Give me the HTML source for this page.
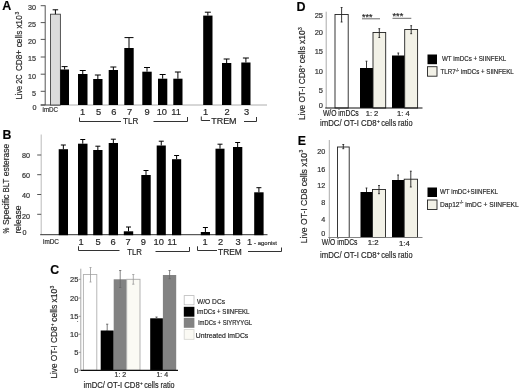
<!DOCTYPE html>
<html><head><meta charset="utf-8"><title>Figure</title>
<style>html,body{margin:0;padding:0;background:#fff}svg{display:block;font-family:"Liberation Sans", sans-serif}text{stroke:#333;stroke-width:.2px}</style>
</head><body>
<svg width="520" height="392" viewBox="0 0 520 392">
<rect width="520" height="392" fill="#fff"/>
<text x="2.20" y="10.30" font-size="12.5" text-anchor="start" fill="#000" font-weight="bold">A</text>
<g transform="translate(22.00 99.30) rotate(-90)" fill="#222">
<text x="0.00" y="0.00" font-size="9.5" textLength="24.80" lengthAdjust="spacingAndGlyphs">Live 2C</text>
<text x="28.20" y="0.00" font-size="9.5" textLength="21.30" lengthAdjust="spacingAndGlyphs">CD8+</text>
<text x="52.00" y="0.00" font-size="9.5" textLength="16.60" lengthAdjust="spacingAndGlyphs">cells</text>
<text x="70.80" y="0.00" font-size="9.5" textLength="13.20" lengthAdjust="spacingAndGlyphs">x10</text>
<text x="84.70" y="-3.14" font-size="4.94" textLength="2.80" lengthAdjust="spacingAndGlyphs">3</text>
</g>
<line x1="45.20" y1="5.40" x2="45.20" y2="105.00" stroke="#555" stroke-width="1"/>
<line x1="40.70" y1="5.70" x2="45.20" y2="5.70" stroke="#555" stroke-width="1"/>
<text x="36.00" y="10.09" font-size="7.2" text-anchor="end" fill="#333">30</text>
<line x1="40.70" y1="22.60" x2="45.20" y2="22.60" stroke="#555" stroke-width="1"/>
<text x="36.00" y="26.99" font-size="7.2" text-anchor="end" fill="#333">25</text>
<line x1="40.70" y1="39.40" x2="45.20" y2="39.40" stroke="#555" stroke-width="1"/>
<text x="36.00" y="43.79" font-size="7.2" text-anchor="end" fill="#333">20</text>
<line x1="40.70" y1="57.00" x2="45.20" y2="57.00" stroke="#555" stroke-width="1"/>
<text x="36.00" y="61.39" font-size="7.2" text-anchor="end" fill="#333">15</text>
<line x1="40.70" y1="74.20" x2="45.20" y2="74.20" stroke="#555" stroke-width="1"/>
<text x="36.00" y="78.59" font-size="7.2" text-anchor="end" fill="#333">10</text>
<line x1="40.70" y1="91.30" x2="45.20" y2="91.30" stroke="#555" stroke-width="1"/>
<text x="36.00" y="95.69" font-size="7.2" text-anchor="end" fill="#333">5</text>
<line x1="40.70" y1="105.00" x2="45.20" y2="105.00" stroke="#555" stroke-width="1"/>
<text x="36.60" y="110.19" font-size="7.2" text-anchor="end" fill="#333">0</text>
<line x1="40.70" y1="105.00" x2="60.00" y2="105.00" stroke="#444" stroke-width="1"/>
<line x1="60.00" y1="105.00" x2="267.00" y2="105.00" stroke="#999" stroke-width="0.8"/>
<rect x="50.50" y="14.20" width="9.90" height="90.80" fill="#dcdcdc" stroke="#444" stroke-width="0.9"/>
<line x1="55.40" y1="9.80" x2="55.40" y2="14.20" stroke="#000" stroke-width="1"/>
<line x1="52.65" y1="9.80" x2="58.15" y2="9.80" stroke="#000" stroke-width="1"/>
<rect x="60.20" y="69.50" width="8.80" height="35.50" fill="#000"/>
<line x1="64.60" y1="66.60" x2="64.60" y2="69.50" stroke="#000" stroke-width="1"/>
<line x1="61.60" y1="66.60" x2="67.60" y2="66.60" stroke="#000" stroke-width="1"/>
<rect x="78.00" y="74.00" width="9.50" height="31.00" fill="#000"/>
<line x1="82.75" y1="70.50" x2="82.75" y2="74.00" stroke="#000" stroke-width="1"/>
<line x1="79.75" y1="70.50" x2="85.75" y2="70.50" stroke="#000" stroke-width="1"/>
<rect x="93.20" y="79.00" width="9.30" height="26.00" fill="#000"/>
<line x1="97.85" y1="75.00" x2="97.85" y2="79.00" stroke="#000" stroke-width="1"/>
<line x1="94.85" y1="75.00" x2="100.85" y2="75.00" stroke="#000" stroke-width="1"/>
<rect x="108.70" y="70.00" width="9.30" height="35.00" fill="#000"/>
<line x1="113.35" y1="67.00" x2="113.35" y2="70.00" stroke="#000" stroke-width="1"/>
<line x1="110.35" y1="67.00" x2="116.35" y2="67.00" stroke="#000" stroke-width="1"/>
<rect x="124.30" y="48.00" width="9.40" height="57.00" fill="#000"/>
<line x1="129.00" y1="37.60" x2="129.00" y2="48.00" stroke="#000" stroke-width="1"/>
<line x1="124.50" y1="37.60" x2="133.50" y2="37.60" stroke="#000" stroke-width="1"/>
<rect x="142.30" y="71.70" width="9.40" height="33.30" fill="#000"/>
<line x1="147.00" y1="67.50" x2="147.00" y2="71.70" stroke="#000" stroke-width="1"/>
<line x1="144.00" y1="67.50" x2="150.00" y2="67.50" stroke="#000" stroke-width="1"/>
<rect x="158.00" y="78.70" width="9.30" height="26.30" fill="#000"/>
<line x1="162.65" y1="74.50" x2="162.65" y2="78.70" stroke="#000" stroke-width="1"/>
<line x1="159.65" y1="74.50" x2="165.65" y2="74.50" stroke="#000" stroke-width="1"/>
<rect x="173.30" y="78.70" width="9.20" height="26.30" fill="#000"/>
<line x1="177.90" y1="72.00" x2="177.90" y2="78.70" stroke="#000" stroke-width="1"/>
<line x1="174.90" y1="72.00" x2="180.90" y2="72.00" stroke="#000" stroke-width="1"/>
<rect x="203.20" y="15.60" width="9.30" height="89.40" fill="#000"/>
<line x1="207.85" y1="12.20" x2="207.85" y2="15.60" stroke="#000" stroke-width="1"/>
<line x1="204.85" y1="12.20" x2="210.85" y2="12.20" stroke="#000" stroke-width="1"/>
<rect x="222.00" y="63.00" width="9.30" height="42.00" fill="#000"/>
<line x1="226.65" y1="59.00" x2="226.65" y2="63.00" stroke="#000" stroke-width="1"/>
<line x1="223.65" y1="59.00" x2="229.65" y2="59.00" stroke="#000" stroke-width="1"/>
<rect x="241.30" y="62.50" width="9.20" height="42.50" fill="#000"/>
<line x1="245.90" y1="58.00" x2="245.90" y2="62.50" stroke="#000" stroke-width="1"/>
<line x1="242.90" y1="58.00" x2="248.90" y2="58.00" stroke="#000" stroke-width="1"/>
<text x="42.50" y="111.87" font-size="6.3" text-anchor="start" fill="#333" textLength="15.50" lengthAdjust="spacingAndGlyphs">imDC</text>
<text x="82.50" y="115.35" font-size="9.3" text-anchor="middle" fill="#222">1</text>
<text x="98.50" y="115.35" font-size="9.3" text-anchor="middle" fill="#222">5</text>
<text x="113.80" y="115.35" font-size="9.3" text-anchor="middle" fill="#222">6</text>
<text x="129.50" y="115.35" font-size="9.3" text-anchor="middle" fill="#222">7</text>
<text x="147.00" y="115.35" font-size="9.3" text-anchor="middle" fill="#222">9</text>
<text x="161.80" y="115.35" font-size="9.3" text-anchor="middle" fill="#222">10</text>
<text x="176.00" y="115.35" font-size="9.3" text-anchor="middle" fill="#222">11</text>
<text x="205.50" y="115.35" font-size="9.3" text-anchor="middle" fill="#222">1</text>
<text x="227.00" y="115.35" font-size="9.3" text-anchor="middle" fill="#222">2</text>
<text x="246.50" y="115.35" font-size="9.3" text-anchor="middle" fill="#222">3</text>
<polyline points="79.50,117.50 79.50,121.50 121.00,121.50" fill="none" stroke="#333" stroke-width="1"/>
<text x="123.00" y="123.68" font-size="9.4" text-anchor="start" fill="#222" textLength="15.30" lengthAdjust="spacingAndGlyphs">TLR</text>
<polyline points="153.50,121.50 187.50,121.50 187.50,117.00" fill="none" stroke="#333" stroke-width="1"/>
<polyline points="201.30,116.50 201.30,120.50 210.00,120.50" fill="none" stroke="#333" stroke-width="1"/>
<text x="211.20" y="123.88" font-size="9.4" text-anchor="start" fill="#222" textLength="25.40" lengthAdjust="spacingAndGlyphs">TREM</text>
<polyline points="244.00,121.50 256.50,121.50 256.50,117.00" fill="none" stroke="#333" stroke-width="1"/>
<text x="2.50" y="139.23" font-size="12.3" text-anchor="start" fill="#000" font-weight="bold">B</text>
<g transform="translate(9.20 233.50) rotate(-90)" fill="#222">
<text x="0.00" y="0.00" font-size="9.4" textLength="5.80" lengthAdjust="spacingAndGlyphs">%</text>
<text x="8.40" y="0.00" font-size="9.4" textLength="30.60" lengthAdjust="spacingAndGlyphs">Specific</text>
<text x="41.00" y="0.00" font-size="9.4" textLength="13.80" lengthAdjust="spacingAndGlyphs">BLT</text>
<text x="57.20" y="0.00" font-size="9.4" textLength="32.50" lengthAdjust="spacingAndGlyphs">esterase</text>
</g>
<text x="20.60" y="233.50" font-size="9.3" text-anchor="start" fill="#222" transform="rotate(-90 20.60 233.50)" textLength="28.00" lengthAdjust="spacingAndGlyphs">release</text>
<line x1="41.20" y1="134.50" x2="41.20" y2="234.70" stroke="#bbb" stroke-width="1"/>
<line x1="37.20" y1="155.00" x2="41.20" y2="155.00" stroke="#555" stroke-width="1"/>
<text x="30.00" y="158.19" font-size="7.2" text-anchor="end" fill="#333">80</text>
<line x1="37.20" y1="174.70" x2="41.20" y2="174.70" stroke="#555" stroke-width="1"/>
<text x="30.00" y="177.89" font-size="7.2" text-anchor="end" fill="#333">60</text>
<line x1="37.20" y1="194.50" x2="41.20" y2="194.50" stroke="#555" stroke-width="1"/>
<text x="30.00" y="197.69" font-size="7.2" text-anchor="end" fill="#333">40</text>
<line x1="37.20" y1="214.30" x2="41.20" y2="214.30" stroke="#555" stroke-width="1"/>
<text x="30.00" y="218.89" font-size="7.2" text-anchor="end" fill="#333">20</text>
<text x="26.40" y="234.89" font-size="7.2" text-anchor="end" fill="#333">0</text>
<line x1="40.20" y1="234.70" x2="267.50" y2="234.70" stroke="#333" stroke-width="1"/>
<rect x="58.70" y="149.20" width="9.30" height="86.00" fill="#000"/>
<line x1="63.35" y1="145.00" x2="63.35" y2="149.20" stroke="#000" stroke-width="1"/>
<line x1="60.85" y1="145.00" x2="65.85" y2="145.00" stroke="#000" stroke-width="1"/>
<rect x="78.00" y="143.70" width="9.50" height="91.50" fill="#000"/>
<line x1="82.75" y1="139.50" x2="82.75" y2="143.70" stroke="#000" stroke-width="1"/>
<line x1="80.25" y1="139.50" x2="85.25" y2="139.50" stroke="#000" stroke-width="1"/>
<rect x="93.20" y="150.00" width="9.30" height="85.20" fill="#000"/>
<line x1="97.85" y1="146.20" x2="97.85" y2="150.00" stroke="#000" stroke-width="1"/>
<line x1="95.35" y1="146.20" x2="100.35" y2="146.20" stroke="#000" stroke-width="1"/>
<rect x="108.70" y="143.00" width="9.30" height="92.20" fill="#000"/>
<line x1="113.35" y1="139.20" x2="113.35" y2="143.00" stroke="#000" stroke-width="1"/>
<line x1="110.85" y1="139.20" x2="115.85" y2="139.20" stroke="#000" stroke-width="1"/>
<rect x="123.80" y="231.30" width="9.40" height="3.90" fill="#000"/>
<line x1="128.50" y1="227.00" x2="128.50" y2="231.30" stroke="#000" stroke-width="1"/>
<line x1="126.00" y1="227.00" x2="131.00" y2="227.00" stroke="#000" stroke-width="1"/>
<rect x="141.30" y="175.00" width="9.40" height="60.20" fill="#000"/>
<line x1="146.00" y1="170.50" x2="146.00" y2="175.00" stroke="#000" stroke-width="1"/>
<line x1="143.50" y1="170.50" x2="148.50" y2="170.50" stroke="#000" stroke-width="1"/>
<rect x="156.70" y="145.50" width="9.10" height="89.70" fill="#000"/>
<line x1="161.25" y1="141.20" x2="161.25" y2="145.50" stroke="#000" stroke-width="1"/>
<line x1="158.75" y1="141.20" x2="163.75" y2="141.20" stroke="#000" stroke-width="1"/>
<rect x="172.00" y="159.20" width="9.20" height="76.00" fill="#000"/>
<line x1="176.60" y1="155.50" x2="176.60" y2="159.20" stroke="#000" stroke-width="1"/>
<line x1="174.10" y1="155.50" x2="179.10" y2="155.50" stroke="#000" stroke-width="1"/>
<rect x="200.80" y="232.00" width="9.20" height="3.20" fill="#000"/>
<line x1="205.40" y1="227.50" x2="205.40" y2="232.00" stroke="#000" stroke-width="1"/>
<line x1="202.90" y1="227.50" x2="207.90" y2="227.50" stroke="#000" stroke-width="1"/>
<rect x="215.50" y="148.70" width="9.00" height="86.50" fill="#000"/>
<line x1="220.00" y1="144.20" x2="220.00" y2="148.70" stroke="#000" stroke-width="1"/>
<line x1="217.50" y1="144.20" x2="222.50" y2="144.20" stroke="#000" stroke-width="1"/>
<rect x="233.00" y="147.00" width="9.30" height="88.20" fill="#000"/>
<line x1="237.65" y1="142.50" x2="237.65" y2="147.00" stroke="#000" stroke-width="1"/>
<line x1="235.15" y1="142.50" x2="240.15" y2="142.50" stroke="#000" stroke-width="1"/>
<rect x="254.20" y="192.30" width="9.40" height="42.90" fill="#000"/>
<line x1="258.90" y1="187.70" x2="258.90" y2="192.30" stroke="#000" stroke-width="1"/>
<line x1="256.40" y1="187.70" x2="261.40" y2="187.70" stroke="#000" stroke-width="1"/>
<text x="43.00" y="243.87" font-size="6.3" text-anchor="start" fill="#333" textLength="16.00" lengthAdjust="spacingAndGlyphs">imDC</text>
<text x="81.00" y="244.65" font-size="9.3" text-anchor="middle" fill="#222">1</text>
<text x="98.00" y="244.65" font-size="9.3" text-anchor="middle" fill="#222">5</text>
<text x="113.20" y="244.65" font-size="9.3" text-anchor="middle" fill="#222">6</text>
<text x="128.00" y="244.65" font-size="9.3" text-anchor="middle" fill="#222">7</text>
<text x="143.30" y="244.65" font-size="9.3" text-anchor="middle" fill="#222">9</text>
<text x="158.70" y="244.65" font-size="9.3" text-anchor="middle" fill="#222">10</text>
<text x="172.00" y="244.65" font-size="9.3" text-anchor="middle" fill="#222">11</text>
<text x="205.00" y="244.65" font-size="9.3" text-anchor="middle" fill="#222">1</text>
<text x="220.50" y="244.65" font-size="9.3" text-anchor="middle" fill="#222">2</text>
<text x="238.00" y="244.65" font-size="9.3" text-anchor="middle" fill="#222">3</text>
<text x="249.50" y="244.65" font-size="9.3" text-anchor="middle" fill="#222">1</text>
<text x="254.00" y="245.42" font-size="5.9" text-anchor="start" fill="#333" textLength="23.00" lengthAdjust="spacingAndGlyphs">- agonist</text>
<polyline points="78.50,246.30 78.50,250.50 119.50,250.50" fill="none" stroke="#333" stroke-width="1"/>
<text x="127.30" y="254.68" font-size="9.4" text-anchor="start" fill="#222" textLength="14.70" lengthAdjust="spacingAndGlyphs">TLR</text>
<polyline points="155.50,251.50 189.50,251.50 189.50,247.00" fill="none" stroke="#333" stroke-width="1"/>
<polyline points="197.50,246.30 197.50,250.50 217.00,250.50" fill="none" stroke="#333" stroke-width="1"/>
<text x="218.00" y="254.78" font-size="9.4" text-anchor="start" fill="#222" textLength="23.80" lengthAdjust="spacingAndGlyphs">TREM</text>
<polyline points="248.00,251.50 281.50,251.50 281.50,247.50" fill="none" stroke="#333" stroke-width="1"/>
<text x="50.30" y="274.43" font-size="12.3" text-anchor="start" fill="#000" font-weight="bold">C</text>
<g transform="translate(56.80 378.60) rotate(-90)" fill="#222">
<text x="0.00" y="0.00" font-size="9.5" textLength="52.20" lengthAdjust="spacingAndGlyphs">Live OT-I CD8</text>
<text x="52.60" y="-3.14" font-size="4.94" textLength="2.40" lengthAdjust="spacingAndGlyphs">+</text>
<text x="56.80" y="0.00" font-size="9.5" textLength="32.90" lengthAdjust="spacingAndGlyphs">cells x10</text>
<text x="90.00" y="-3.14" font-size="4.94" textLength="2.80" lengthAdjust="spacingAndGlyphs">3</text>
</g>
<line x1="80.80" y1="268.70" x2="80.80" y2="370.30" stroke="#aaa" stroke-width="1"/>
<line x1="78.80" y1="279.30" x2="80.80" y2="279.30" stroke="#999" stroke-width="1"/>
<text x="78.40" y="282.20" font-size="7.5" text-anchor="end" fill="#333">25</text>
<line x1="78.80" y1="298.00" x2="80.80" y2="298.00" stroke="#999" stroke-width="1"/>
<text x="78.40" y="300.90" font-size="7.5" text-anchor="end" fill="#333">20</text>
<line x1="78.80" y1="316.30" x2="80.80" y2="316.30" stroke="#999" stroke-width="1"/>
<text x="78.40" y="319.20" font-size="7.5" text-anchor="end" fill="#333">15</text>
<line x1="78.80" y1="334.20" x2="80.80" y2="334.20" stroke="#999" stroke-width="1"/>
<text x="78.40" y="337.10" font-size="7.5" text-anchor="end" fill="#333">10</text>
<line x1="78.80" y1="352.30" x2="80.80" y2="352.30" stroke="#999" stroke-width="1"/>
<text x="78.40" y="355.20" font-size="7.5" text-anchor="end" fill="#333">5</text>
<line x1="78.80" y1="370.30" x2="80.80" y2="370.30" stroke="#999" stroke-width="1"/>
<text x="78.40" y="373.20" font-size="7.5" text-anchor="end" fill="#333">0</text>
<rect x="83.40" y="274.50" width="13.40" height="95.80" fill="#fff" stroke="#b0b0b0" stroke-width="0.9"/>
<line x1="90.50" y1="267.50" x2="90.50" y2="282.00" stroke="#999" stroke-width="0.8"/>
<line x1="89.50" y1="267.50" x2="91.50" y2="267.50" stroke="#999" stroke-width="0.8"/>
<line x1="89.50" y1="282.00" x2="91.50" y2="282.00" stroke="#999" stroke-width="0.8"/>
<rect x="100.70" y="330.50" width="13.00" height="39.80" fill="#000"/>
<line x1="107.20" y1="324.20" x2="107.20" y2="330.50" stroke="#555" stroke-width="0.8"/>
<line x1="106.10" y1="324.20" x2="108.30" y2="324.20" stroke="#555" stroke-width="0.8"/>
<line x1="106.10" y1="330.50" x2="108.30" y2="330.50" stroke="#555" stroke-width="0.8"/>
<rect x="113.70" y="279.30" width="13.00" height="91.00" fill="#828282"/>
<line x1="120.20" y1="270.50" x2="120.20" y2="287.50" stroke="#666" stroke-width="0.8"/>
<line x1="119.10" y1="270.50" x2="121.30" y2="270.50" stroke="#666" stroke-width="0.8"/>
<line x1="119.10" y1="287.50" x2="121.30" y2="287.50" stroke="#666" stroke-width="0.8"/>
<rect x="126.70" y="279.30" width="13.30" height="91.00" fill="#fbfaf4" stroke="#aaa" stroke-width="0.9"/>
<line x1="133.30" y1="274.50" x2="133.30" y2="284.20" stroke="#999" stroke-width="0.8"/>
<line x1="132.20" y1="274.50" x2="134.40" y2="274.50" stroke="#999" stroke-width="0.8"/>
<line x1="132.20" y1="284.20" x2="134.40" y2="284.20" stroke="#999" stroke-width="0.8"/>
<rect x="150.20" y="318.30" width="12.70" height="52.00" fill="#000"/>
<line x1="156.50" y1="317.00" x2="156.50" y2="318.30" stroke="#555" stroke-width="0.8"/>
<line x1="155.40" y1="317.00" x2="157.60" y2="317.00" stroke="#555" stroke-width="0.8"/>
<line x1="155.40" y1="318.30" x2="157.60" y2="318.30" stroke="#555" stroke-width="0.8"/>
<rect x="162.90" y="275.00" width="13.30" height="95.30" fill="#828282"/>
<line x1="169.60" y1="270.50" x2="169.60" y2="278.70" stroke="#666" stroke-width="0.8"/>
<line x1="168.50" y1="270.50" x2="170.70" y2="270.50" stroke="#666" stroke-width="0.8"/>
<line x1="168.50" y1="278.70" x2="170.70" y2="278.70" stroke="#666" stroke-width="0.8"/>
<line x1="80.80" y1="370.30" x2="178.00" y2="370.30" stroke="#111" stroke-width="1.2"/>
<circle cx="77.6" cy="321.6" r="0.5" fill="#555"/>
<text x="120.40" y="377.22" font-size="7" text-anchor="middle" fill="#333">1: 2</text>
<text x="162.30" y="377.22" font-size="7" text-anchor="middle" fill="#333">1: 4</text>
<g transform="translate(83.50 388.30)" fill="#222">
<text x="0.00" y="0.00" font-size="9.6" textLength="56.20" lengthAdjust="spacingAndGlyphs">imDC/ OT-I CD8</text>
<text x="56.80" y="-3.17" font-size="4.99" textLength="2.40" lengthAdjust="spacingAndGlyphs">+</text>
<text x="60.70" y="0.00" font-size="9.6" textLength="30.30" lengthAdjust="spacingAndGlyphs">cells ratio</text>
</g>
<rect x="184.20" y="295.60" width="9.80" height="9.20" fill="#fff" stroke="#bbb" stroke-width="0.8"/>
<rect x="183.80" y="306.80" width="10.60" height="9.90" fill="#000"/>
<rect x="183.80" y="317.80" width="10.60" height="10.00" fill="#828282"/>
<rect x="184.20" y="329.60" width="9.80" height="9.70" fill="#fbfaf4" stroke="#d4d4d0" stroke-width="0.8"/>
<text x="197.00" y="303.58" font-size="8" text-anchor="start" fill="#222" textLength="28.00" lengthAdjust="spacingAndGlyphs">W/O DCs</text>
<text x="197.00" y="313.88" font-size="8" text-anchor="start" fill="#222" textLength="52.50" lengthAdjust="spacingAndGlyphs">imDCs + SIINFEKL</text>
<text x="198.30" y="325.48" font-size="8" text-anchor="start" fill="#222" textLength="53.70" lengthAdjust="spacingAndGlyphs">imDCs + SIYRYYGL</text>
<text x="195.80" y="337.68" font-size="8" text-anchor="start" fill="#222" textLength="52.50" lengthAdjust="spacingAndGlyphs">Untreated imDCs</text>
<text x="296.60" y="11.00" font-size="12.5" text-anchor="start" fill="#000" font-weight="bold">D</text>
<g transform="translate(304.80 120.00) rotate(-90)" fill="#222">
<text x="0.00" y="0.00" font-size="9.5" textLength="52.20" lengthAdjust="spacingAndGlyphs">Live OT-I CD8</text>
<text x="52.60" y="-3.14" font-size="4.94" textLength="2.40" lengthAdjust="spacingAndGlyphs">+</text>
<text x="56.80" y="0.00" font-size="9.5" textLength="32.90" lengthAdjust="spacingAndGlyphs">cells x10</text>
<text x="90.00" y="-3.14" font-size="4.94" textLength="2.80" lengthAdjust="spacingAndGlyphs">3</text>
</g>
<line x1="326.20" y1="11.70" x2="326.20" y2="108.00" stroke="#aaa" stroke-width="1"/>
<text x="323.00" y="18.20" font-size="7.5" text-anchor="end" fill="#333">25</text>
<text x="323.00" y="35.20" font-size="7.5" text-anchor="end" fill="#333">20</text>
<text x="323.00" y="54.20" font-size="7.5" text-anchor="end" fill="#333">15</text>
<text x="323.00" y="73.70" font-size="7.5" text-anchor="end" fill="#333">10</text>
<text x="323.00" y="93.20" font-size="7.5" text-anchor="end" fill="#333">5</text>
<text x="323.00" y="108.20" font-size="7.5" text-anchor="end" fill="#333">0</text>
<rect x="335.00" y="14.50" width="13.20" height="93.50" fill="#fff" stroke="#222" stroke-width="0.9"/>
<line x1="341.60" y1="7.50" x2="341.60" y2="22.00" stroke="#222" stroke-width="0.9"/>
<line x1="340.70" y1="7.50" x2="342.50" y2="7.50" stroke="#222" stroke-width="0.9"/>
<line x1="340.70" y1="22.00" x2="342.50" y2="22.00" stroke="#222" stroke-width="0.9"/>
<rect x="360.00" y="68.00" width="13.00" height="40.00" fill="#000"/>
<line x1="366.50" y1="61.20" x2="366.50" y2="68.00" stroke="#222" stroke-width="0.9"/>
<line x1="365.60" y1="61.20" x2="367.40" y2="61.20" stroke="#222" stroke-width="0.9"/>
<rect x="373.00" y="32.50" width="12.70" height="75.50" fill="#f2f1e7" stroke="#222" stroke-width="0.9"/>
<line x1="379.30" y1="28.70" x2="379.30" y2="37.50" stroke="#222" stroke-width="0.9"/>
<line x1="378.40" y1="28.70" x2="380.20" y2="28.70" stroke="#222" stroke-width="0.9"/>
<line x1="378.40" y1="37.50" x2="380.20" y2="37.50" stroke="#222" stroke-width="0.9"/>
<rect x="392.00" y="55.50" width="12.70" height="52.50" fill="#000"/>
<line x1="398.30" y1="53.00" x2="398.30" y2="55.50" stroke="#222" stroke-width="0.9"/>
<line x1="397.40" y1="53.00" x2="399.20" y2="53.00" stroke="#222" stroke-width="0.9"/>
<rect x="404.70" y="29.50" width="12.90" height="78.50" fill="#f2f1e7" stroke="#222" stroke-width="0.9"/>
<line x1="411.20" y1="25.70" x2="411.20" y2="33.70" stroke="#222" stroke-width="0.9"/>
<line x1="410.30" y1="25.70" x2="412.10" y2="25.70" stroke="#222" stroke-width="0.9"/>
<line x1="410.30" y1="33.70" x2="412.10" y2="33.70" stroke="#222" stroke-width="0.9"/>
<line x1="325.20" y1="108.00" x2="422.50" y2="108.00" stroke="#111" stroke-width="1.2"/>
<text x="362.00" y="19.90" font-size="8.6" text-anchor="start" fill="#222" textLength="10.50" lengthAdjust="spacingAndGlyphs">***</text>
<line x1="362.00" y1="18.80" x2="380.00" y2="18.80" stroke="#444" stroke-width="0.8"/>
<text x="392.50" y="19.40" font-size="8.6" text-anchor="start" fill="#222" textLength="10.80" lengthAdjust="spacingAndGlyphs">***</text>
<line x1="392.50" y1="18.30" x2="411.30" y2="18.30" stroke="#444" stroke-width="0.8"/>
<text x="322.90" y="116.02" font-size="8.4" text-anchor="start" fill="#222" textLength="35.80" lengthAdjust="spacingAndGlyphs">W/O imDCs</text>
<text x="372.00" y="115.74" font-size="7.6" text-anchor="middle" fill="#222">1: 2</text>
<text x="403.30" y="115.74" font-size="7.6" text-anchor="middle" fill="#222">1: 4</text>
<g transform="translate(320.00 126.10)" fill="#222">
<text x="0.00" y="0.00" font-size="9.8" textLength="56.60" lengthAdjust="spacingAndGlyphs">imDC/ OT-I CD8</text>
<text x="57.10" y="-3.23" font-size="5.1" textLength="2.80" lengthAdjust="spacingAndGlyphs">+</text>
<text x="61.30" y="0.00" font-size="9.8" textLength="31.20" lengthAdjust="spacingAndGlyphs">cells ratio</text>
</g>
<rect x="427.50" y="54.50" width="9.50" height="9.70" fill="#000"/>
<rect x="427.50" y="66.70" width="9.50" height="9.50" fill="#f2f1e7" stroke="#222" stroke-width="0.9"/>
<text x="442.00" y="60.68" font-size="8" text-anchor="start" fill="#222" textLength="64.20" lengthAdjust="spacingAndGlyphs">WT imDCs + SIINFEKL</text>
<text x="440.50" y="73.98" font-size="8" text-anchor="start" fill="#222" textLength="73.20" lengthAdjust="spacingAndGlyphs">TLR7<tspan font-size="60%" dy="-0.45em">-/-</tspan><tspan dy="0.27em"> </tspan>imDCs + SIINFEKL</text>
<text x="297.70" y="145.03" font-size="12.3" text-anchor="start" fill="#000" font-weight="bold">E</text>
<g transform="translate(306.50 243.20) rotate(-90)" fill="#222">
<text x="0.00" y="0.00" font-size="9.5" textLength="90.30" lengthAdjust="spacingAndGlyphs">Live  OT-I CD8 cells x10</text>
<text x="90.70" y="-3.14" font-size="4.94" textLength="2.80" lengthAdjust="spacingAndGlyphs">3</text>
</g>
<line x1="329.30" y1="140.00" x2="329.30" y2="237.50" stroke="#aaa" stroke-width="1"/>
<text x="325.30" y="154.29" font-size="7.2" text-anchor="end" fill="#333">20</text>
<text x="325.30" y="171.79" font-size="7.2" text-anchor="end" fill="#333">16</text>
<text x="325.30" y="188.09" font-size="7.2" text-anchor="end" fill="#333">12</text>
<text x="325.30" y="205.29" font-size="7.2" text-anchor="end" fill="#333">8</text>
<text x="325.30" y="221.89" font-size="7.2" text-anchor="end" fill="#333">4</text>
<text x="325.30" y="236.29" font-size="7.2" text-anchor="end" fill="#333">0</text>
<rect x="337.50" y="147.00" width="11.70" height="90.50" fill="#fff" stroke="#222" stroke-width="0.9"/>
<line x1="343.30" y1="144.50" x2="343.30" y2="148.70" stroke="#222" stroke-width="0.9"/>
<line x1="342.40" y1="144.50" x2="344.20" y2="144.50" stroke="#222" stroke-width="0.9"/>
<line x1="342.40" y1="148.70" x2="344.20" y2="148.70" stroke="#222" stroke-width="0.9"/>
<rect x="360.50" y="192.00" width="12.00" height="45.50" fill="#000"/>
<line x1="366.50" y1="188.00" x2="366.50" y2="192.00" stroke="#222" stroke-width="0.9"/>
<line x1="365.60" y1="188.00" x2="367.40" y2="188.00" stroke="#222" stroke-width="0.9"/>
<rect x="372.50" y="189.50" width="13.00" height="48.00" fill="#f2f1e7" stroke="#222" stroke-width="0.9"/>
<line x1="379.00" y1="185.50" x2="379.00" y2="193.70" stroke="#222" stroke-width="0.9"/>
<line x1="378.10" y1="185.50" x2="379.90" y2="185.50" stroke="#222" stroke-width="0.9"/>
<line x1="378.10" y1="193.70" x2="379.90" y2="193.70" stroke="#222" stroke-width="0.9"/>
<rect x="392.00" y="180.00" width="12.20" height="57.50" fill="#000"/>
<line x1="398.10" y1="175.00" x2="398.10" y2="180.00" stroke="#222" stroke-width="0.9"/>
<line x1="397.20" y1="175.00" x2="399.00" y2="175.00" stroke="#222" stroke-width="0.9"/>
<rect x="404.20" y="179.20" width="13.30" height="58.30" fill="#f2f1e7" stroke="#222" stroke-width="0.9"/>
<line x1="410.80" y1="171.20" x2="410.80" y2="187.00" stroke="#222" stroke-width="0.9"/>
<line x1="409.90" y1="171.20" x2="411.70" y2="171.20" stroke="#222" stroke-width="0.9"/>
<line x1="409.90" y1="187.00" x2="411.70" y2="187.00" stroke="#222" stroke-width="0.9"/>
<line x1="328.30" y1="237.50" x2="422.50" y2="237.50" stroke="#777" stroke-width="0.9"/>
<text x="321.80" y="244.52" font-size="8.4" text-anchor="start" fill="#222" textLength="35.60" lengthAdjust="spacingAndGlyphs">W/O imDCs</text>
<text x="373.10" y="245.31" font-size="7.8" text-anchor="middle" fill="#222">1:2</text>
<text x="404.40" y="246.01" font-size="7.8" text-anchor="middle" fill="#222">1:4</text>
<g transform="translate(320.00 258.20)" fill="#222">
<text x="0.00" y="0.00" font-size="9.8" textLength="56.60" lengthAdjust="spacingAndGlyphs">imDC/ OT-I CD8</text>
<text x="57.10" y="-3.23" font-size="5.1" textLength="2.80" lengthAdjust="spacingAndGlyphs">+</text>
<text x="61.30" y="0.00" font-size="9.8" textLength="31.20" lengthAdjust="spacingAndGlyphs">cells ratio</text>
</g>
<rect x="427.50" y="187.50" width="9.50" height="9.50" fill="#000"/>
<rect x="427.50" y="200.00" width="9.50" height="9.50" fill="#f2f1e7" stroke="#222" stroke-width="0.9"/>
<text x="440.00" y="194.18" font-size="8" text-anchor="start" fill="#222" textLength="58.00" lengthAdjust="spacingAndGlyphs">WT imDC+SIINFEKL</text>
<text x="440.00" y="206.58" font-size="8" text-anchor="start" fill="#222" textLength="78.70" lengthAdjust="spacingAndGlyphs">Dap12<tspan font-size="60%" dy="-0.45em">-/-</tspan><tspan dy="0.27em"> </tspan> imDC + SIINFEKL</text>
</svg>
</body></html>
